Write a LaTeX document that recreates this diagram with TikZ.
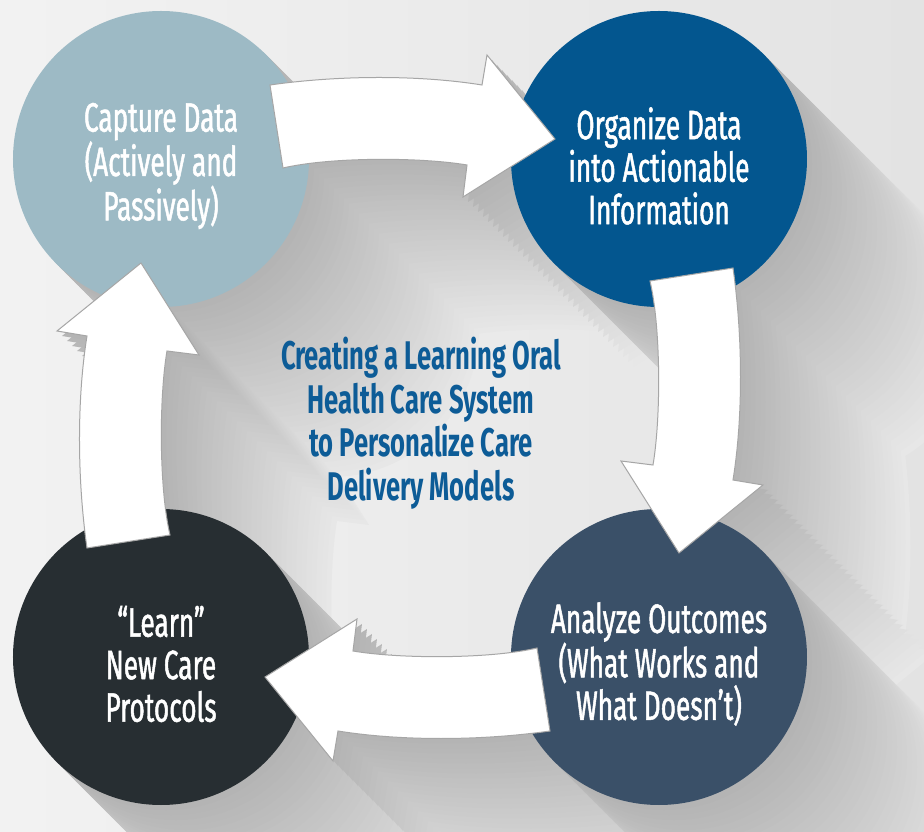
\documentclass[tikz,border=0pt]{standalone}
\usepackage{fontspec}
\setmainfont{Fira Sans}[FakeStretch=0.68]
\newfontfamily\stagefont{Fira Sans}[FakeStretch=0.64, FakeBold=1.2]
\newfontfamily\hubfont{Fira Sans}[FakeStretch=0.64]
\usetikzlibrary{calc}

\definecolor{bgclr}{HTML}{E8E8E8}
\definecolor{shadeclr}{HTML}{B4B4B4}
\definecolor{captureclr}{HTML}{9DBAC5}
\definecolor{organizeclr}{HTML}{03568F}
\definecolor{analyzeclr}{HTML}{3A5068}
\definecolor{learnclr}{HTML}{272E32}
\definecolor{hubclr}{HTML}{0D5C97}

% one curved block arrow (the top one), the others are rotated copies
\newcommand\cycarrow{(-140,323) .. controls (-70,333) and (10,333) .. (72,323) -- (77,353) -- (145,269) -- (53,211) -- (57,243) .. controls (10,251) and (-80,251) .. (-127,240) -- cycle}

\tikzset{
  stage/.style={circle, minimum size=296pt, inner sep=0pt},
  stagetext/.style={text=white, align=center, yshift=-7pt,
    font=\stagefont\fontsize{41}{42.5}\selectfont},
  hub/.style={text=hubclr, align=center, font=\hubfont\bfseries\fontsize{40}{43.5}\selectfont},
  blockarrow/.style={fill=white, draw=black!35, line width=1pt, line join=miter},
}

\begin{document}
\begin{tikzpicture}[x=1pt,y=1pt]
  \useasboundingbox (-410,-424) rectangle (514,408);
  %% backdrop
  \shade[left color=black!5, right color=black!11] (-410,-424) rectangle (514,408);
  %% long shadows, far copies first
  \foreach \k in {34,...,1} {
    \pgfmathtruncatemacro\mix{100*(1-(\k-1)/34)}
    \begin{scope}[shift={(\k*5,-\k*5)}]
      \foreach \x/\y in {-249/249,249/249,249/-249,-249/-249}
        \fill[shadeclr!\mix!bgclr] (\x,\y) circle (148);
      \foreach \r in {0,-90,-180,90}
        \fill[shadeclr!\mix!bgclr, rotate=\r] \cycarrow;
    \end{scope}
  }
  %% stages
  \node[stage, fill=captureclr] (capture) at (-249,249) {};
  \node[stage, fill=organizeclr] (organize) at (249,249) {};
  \node[stage, fill=analyzeclr] (analyze) at (249,-249) {};
  \node[stage, fill=learnclr] (learn) at (-249,-249) {};
  \node[stagetext] (capturetext) at (capture) {Capture Data\\(Actively and\\Passively)};
  \node[stagetext] (organizetext) at (organize) {Organize Data\\into Actionable\\Information};
  \node[stagetext] (analyzetext) at (analyze) {Analyze Outcomes\\(What Works and\\What Doesn’t)};
  \node[stagetext] (learntext) at (learn) {“Learn”\\New Care\\Protocols};
  %% arrows
  \foreach \r in {0,-90,-180,90}
    \filldraw[blockarrow, rotate=\r] \cycarrow;
  %% centre
  \node[hub] (hub) at (11,-15) {Creating a Learning Oral\\Health Care System\\to Personalize Care\\Delivery Models};
\end{tikzpicture}
\end{document}
